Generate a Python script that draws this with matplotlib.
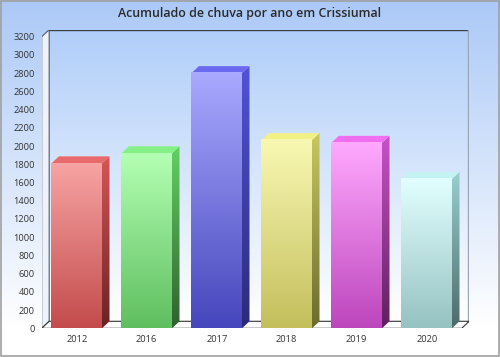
import numpy as np
import matplotlib.pyplot as plt
from matplotlib.colors import to_rgb
from matplotlib.patches import Polygon, Rectangle

# dados
anos = ['2012', '2016', '2017', '2018', '2019', '2020']
chuva = [1810, 1920, 2800, 2065, 2035, 1640]
yticks = list(range(0, 3201, 200))

# cores de cada barra: frente (topo/base), lateral (topo/base), tampa
frente_topo = ['#f7a3a3', '#b3ffb3', '#a9a9ff', '#f8f8b3', '#ffa9ff', '#e2ffff']
frente_base = ['#c44c4c', '#5fbf5f', '#4646bd', '#c4bf5c', '#bd46bd', '#96c2c2']
lateral_topo = ['#d65656', '#63d063', '#5252d8', '#c8c862', '#c852c8', '#98d0d0']
lateral_base = ['#6a2222', '#2f612f', '#2b2b7a', '#6b6b2d', '#5f1f5f', '#4e6a6a']
tampa = ['#e86a6a', '#85f085', '#6a6af0', '#f0f085', '#f06ef0', '#c2f2f2']

plt.rcParams['font.family'] = ['Open Sans', 'DejaVu Sans']

largura = 0.723      # largura da face frontal (em unidades de categoria)
dx, dy = 0.107, 77   # profundidade do efeito 3D
ymax = 3200


def gradiente(ax, x0, x1, y0, y1, c_topo, c_base, clip=None, z=2):
    t = np.linspace(0, 1, 128)[:, None, None]
    img = np.array(to_rgb(c_topo)) * (1 - t) + np.array(to_rgb(c_base)) * t
    im = ax.imshow(img, extent=[x0, x1, y0, y1], origin='upper', aspect='auto',
                   interpolation='bilinear', zorder=z)
    if clip is not None:
        ax.add_patch(clip)
        im.set_clip_path(clip)
    return im


fig = plt.figure(figsize=(5, 3.57), dpi=100)

# fundo da figura em degradê
fundo = fig.add_axes([0, 0, 1, 1], zorder=-5)
t = np.linspace(0, 1, 256)
t = np.clip(t / 0.92, 0, 1)[:, None, None]
img = np.array(to_rgb('#abc9f7')) * (1 - t) + np.array([1, 1, 1]) * t
fundo.imshow(img, extent=[0, 1, 0, 1], origin='upper', aspect='auto')
fundo.set_xlim(0, 1)
fundo.set_ylim(0, 1)
fundo.axis('off')
fundo.add_patch(Rectangle((0.001, 0.002), 0.997, 0.995, fill=False,
                          edgecolor='#a0a0a0', linewidth=1.2))

W, H = 500, 357
x_esq, y_zero = 41.7, 328.3
px_x = 70.0
px_y = 291.6 / ymax
larg_ax = (6 + dx) * px_x
alt_ax = (ymax + dy) * px_y
ax = fig.add_axes([x_esq / W, (H - y_zero) / H, larg_ax / W, alt_ax / H])
ax.set_facecolor('none')

# parede do fundo
parede = Polygon([(-0.5 + dx, dy), (5.5 + dx, dy), (5.5 + dx, ymax + dy), (-0.5 + dx, ymax + dy)],
                 closed=True, facecolor='none', edgecolor='none')
gradiente(ax, -0.5 + dx, 5.5 + dx, dy, ymax + dy, '#b0cef9', '#ffffff', clip=parede, z=0)
ax.plot([-0.5 + dx, 5.5 + dx, 5.5 + dx], [ymax + dy, ymax + dy, dy], color='#3a3f4a', lw=1, zorder=1)
ax.plot([5.5 + dx - 0.012] * 2, [dy, ymax + dy], color='#9aa6b8', lw=1, zorder=1)

# parede lateral esquerda
ax.add_patch(Polygon([(-0.5, 0), (-0.5 + dx, dy), (-0.5 + dx, ymax + dy), (-0.5, ymax)],
                     closed=True, facecolor='#eef3fb', edgecolor='#555a66', lw=0.8, zorder=1))
# piso
ax.add_patch(Polygon([(-0.5, 0), (5.5, 0), (5.5 + dx, dy), (-0.5 + dx, dy)],
                     closed=True, facecolor='white', edgecolor='#333333', lw=0.8, zorder=1))

# barras 3D
for i, v in enumerate(chuva):
    x0 = i - largura / 2
    x1 = i + largura / 2
    # lateral
    lado = Polygon([(x1, 0), (x1 + dx, dy), (x1 + dx, v + dy), (x1, v)], closed=True,
                   facecolor='none', edgecolor='none')
    gradiente(ax, x1, x1 + dx, 0, v + dy, lateral_topo[i], lateral_base[i], clip=lado, z=3)
    # tampa
    ax.add_patch(Polygon([(x0, v), (x1, v), (x1 + dx, v + dy), (x0 + dx, v + dy)], closed=True,
                         facecolor=tampa[i], edgecolor='none', zorder=3))
    # frente
    gradiente(ax, x0, x1, 0, v, frente_topo[i], frente_base[i], z=4)

ax.set_xlim(-0.5, 5.5 + dx)
ax.set_ylim(0, ymax + dy)
ax.set_xticks(range(len(anos)))
ax.set_xticklabels(anos)
ax.set_yticks(yticks)
ax.set_yticklabels([str(v) for v in yticks])
ax.tick_params(axis='both', length=0, labelsize=6.7, labelcolor='#333333')
ax.tick_params(axis='y', pad=5)
ax.tick_params(axis='x', pad=5)
for s in ax.spines.values():
    s.set_visible(False)

fig.text(0.5, 1 - 13.5 / H, 'Acumulado de chuva por ano em Crissiumal',
         ha='center', va='center', fontsize=8.9, fontweight='semibold', color='#2a2a2a')

fig.savefig('out.png', dpi=100)
